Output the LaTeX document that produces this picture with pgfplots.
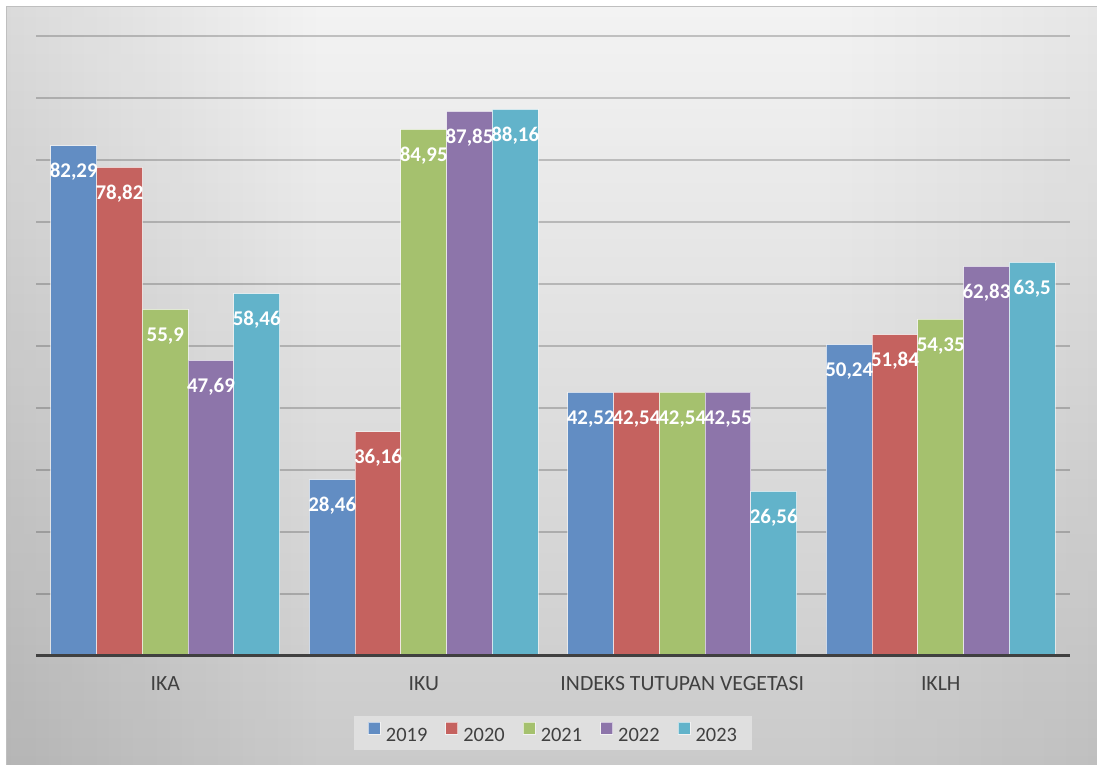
\documentclass[border=0pt]{standalone}
\usepackage{pgfplots}
\pgfplotsset{compat=1.18}
\usepackage{fontspec}
\setmainfont{Carlito}
\usetikzlibrary{fadings}

\definecolor{c2019}{HTML}{628DC3}
\definecolor{c2020}{HTML}{C5625F}
\definecolor{c2021}{HTML}{A5C16E}
\definecolor{c2022}{HTML}{8D75AA}
\definecolor{c2023}{HTML}{62B3CA}
\definecolor{bgtop}{HTML}{F3F3F3}
\definecolor{bgbot}{HTML}{CACACA}
\definecolor{legbg}{HTML}{DFDFDF}
\definecolor{txtgray}{HTML}{404040}

\begin{document}
\begin{tikzpicture}
\path[use as bounding box] (0bp,0bp) rectangle (1097bp,765bp);
\fill[white] (0bp,0bp) rectangle (1097bp,765bp);
% chart background
\shade[top color=bgtop, bottom color=bgbot] (6bp,0bp) rectangle (1097bp,758bp);
\fill[black, opacity=0.1, path fading=east] (6bp,0bp) rectangle (320bp,758bp);
\fill[black, opacity=0.05, path fading=west] (820bp,0bp) rectangle (1097bp,758bp);
\draw[color=black!25, line width=1bp] (6bp,0bp) -- (6bp,758bp) -- (1097bp,758bp);

\begin{axis}[
    at={(36bp,109bp)}, anchor=south west,
    scale only axis,
    width=1034bp, height=620bp,
    ymin=0, ymax=100,
    xmin=-0.5, xmax=3.5,
    axis line style={draw=none},
    major tick length=0pt,
    ytick={10,20,...,100},
    yticklabels={},
    ymajorgrids,
    grid style={black, opacity=0.2, line width=1.6bp},
    xtick={0,1,2,3},
    xticklabels={IKA, IKU, INDEKS TUTUPAN VEGETASI, IKLH},
    xticklabel style={font=\fontsize{21.8}{25}\selectfont, text=txtgray, yshift=-17bp},
    ybar,
    bar width=0.177,
    /pgf/number format/use comma,
    /pgf/number format/fixed,
    /pgf/number format/precision=2,
    /pgf/number format/assume math mode=true,
    nodes near coords,
    every node near coord/.append style={font=\bfseries\fontsize{21}{24}\selectfont,
        text=white, anchor=base, yshift=-32bp, inner sep=0pt},
    area legend,
    legend image code/.code={\fill[#1] (0bp,1bp) rectangle (12bp,13bp);},
    legend columns=5,
    legend style={at={(0.5,-0.124)}, anchor=center, fill=legbg, draw=none,
        font=\fontsize{20.5}{24}\selectfont, text=txtgray,
        inner xsep=14bp, inner ysep=6bp,
        nodes={inner sep=1bp},
        /tikz/every odd column/.append style={column sep=4bp},
        /tikz/every even column/.append style={column sep=17bp}},
    every axis plot/.append style={draw=white, draw opacity=0.6, line width=1bp},
]
\addplot[fill=c2019, bar shift=-0.354] coordinates {(0,82.29) (1,28.46) (2,42.52) (3,50.24)};
\addplot[fill=c2020, bar shift=-0.177] coordinates {(0,78.82) (1,36.16) (2,42.54) (3,51.84)};
\addplot[fill=c2021, bar shift=0] coordinates {(0,55.9) (1,84.95) (2,42.54) (3,54.35)};
\addplot[fill=c2022, bar shift=0.177] coordinates {(0,47.69) (1,87.85) (2,42.55) (3,62.83)};
\addplot[fill=c2023, bar shift=0.354] coordinates {(0,58.46) (1,88.16) (2,26.56) (3,63.5)};
\legend{2019,2020,2021,2022,2023}
\draw[color=txtgray, line width=4bp] (rel axis cs:0,0) -- (rel axis cs:1,0);
\end{axis}
\end{tikzpicture}
\end{document}
